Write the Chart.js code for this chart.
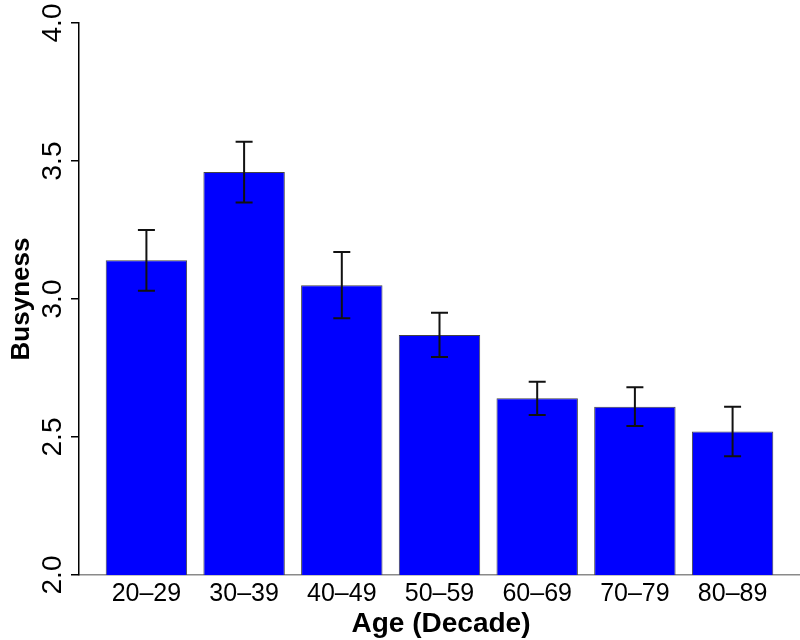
<!DOCTYPE html>
<html>
<head>
<meta charset="utf-8">
<script src="https://cdn.jsdelivr.net/npm/chart.js@4.4.1/dist/chart.umd.min.js"></script>
<style>
  body { margin: 0; background: #fff; }
  #wrap { width: 800px; height: 640px; }
</style>
</head>
<body>
<div id="wrap"><canvas id="busyChart"></canvas></div>
<script>
// Data
const ageGroups = ["20\u201329", "30\u201339", "40\u201349", "50\u201359", "60\u201369", "70\u201379", "80\u201389"];
const meanBusyness = [3.14, 3.46, 3.05, 2.87, 2.64, 2.61, 2.52];
const errUpper = [3.25, 3.57, 3.17, 2.95, 2.70, 2.68, 2.61];
const errLower = [3.03, 3.35, 2.93, 2.79, 2.58, 2.54, 2.43];
const yTicks = [2.0, 2.5, 3.0, 3.5, 4.0];

// R barplot positions: bar i spans 0.2 + 1.2*i .. +1
const barCenters = ageGroups.map((_, i) => 0.7 + 1.2 * i);

const FONT = "'Liberation Sans', Arial, Helvetica, sans-serif";

// Error bars, rotated y tick labels and axis titles
const extrasPlugin = {
    id: "extras",
    afterDatasetsDraw(chart) {
        const ctx = chart.ctx;
        const xs = chart.scales.x, ys = chart.scales.y;
        ctx.save();
        ctx.strokeStyle = "#111";
        ctx.lineWidth = 2;
        barCenters.forEach((c, i) => {
            const px = xs.getPixelForValue(c);
            const top = ys.getPixelForValue(errUpper[i]);
            const bot = ys.getPixelForValue(errLower[i]);
            ctx.beginPath();
            ctx.moveTo(px, top); ctx.lineTo(px, bot);
            ctx.moveTo(px - 8.5, top); ctx.lineTo(px + 8.5, top);
            ctx.moveTo(px - 8.5, bot); ctx.lineTo(px + 8.5, bot);
            ctx.stroke();
        });
        ctx.restore();
    },
    afterDraw(chart) {
        const ctx = chart.ctx;
        const ys = chart.scales.y;
        ctx.save();
        ctx.fillStyle = "#000";

        // y tick labels, reading upward
        ctx.font = "28px " + FONT;
        ctx.textAlign = "center";
        ctx.textBaseline = "alphabetic";
        yTicks.forEach(v => {
            const py = ys.getPixelForValue(v);
            ctx.save();
            ctx.translate(61, py);
            ctx.rotate(-Math.PI / 2);
            ctx.fillText(v.toFixed(1), 0, 0);
            ctx.restore();
        });

        // y title
        ctx.font = "bold 26px " + FONT;
        ctx.save();
        ctx.translate(29, (chart.chartArea.top + chart.chartArea.bottom) / 2);
        ctx.rotate(-Math.PI / 2);
        ctx.fillText("Busyness", 0, 0);
        ctx.restore();

        // x title
        ctx.font = "bold 28px " + FONT;
        ctx.fillText("Age (Decade)", 441, 632);
        ctx.restore();
    }
};

const ctx = document.getElementById("busyChart").getContext("2d");
const busyChart = new Chart(ctx, {
    type: "bar",
    data: {
        datasets: [{
            data: barCenters.map((c, i) => ({ x: c, y: meanBusyness[i] })),
            backgroundColor: "#0000FF",
            borderColor: "#444",
            borderWidth: 1,
            borderSkipped: false,
            categoryPercentage: 1,
            barPercentage: 1 / 1.2
        }]
    },
    options: {
        responsive: true,
        maintainAspectRatio: false,
        animation: false,
        layout: { padding: { top: 23, right: 0, left: 0, bottom: 0 } },
        plugins: {
            legend: { display: false },
            tooltip: { enabled: false }
        },
        scales: {
            x: {
                type: "linear",
                min: -0.128,
                max: 8.728,
                offset: false,
                grid: { display: false, drawTicks: false, offset: false },
                border: { display: true, color: "#8a8a8a", width: 1.5 },
                afterBuildTicks: scale => {
                    scale.ticks = barCenters.map(v => ({ value: v }));
                },
                afterFit: scale => { scale.height = 65; },
                ticks: {
                    autoSkip: false,
                    maxRotation: 0,
                    padding: 4,
                    color: "#000",
                    font: { family: FONT, size: 25 },
                    callback: (value, index) => ageGroups[index]
                }
            },
            y: {
                min: 2,
                max: 4,
                afterBuildTicks: scale => {
                    scale.ticks = yTicks.map(v => ({ value: v }));
                },
                afterFit: scale => { scale.width = 79; },
                grid: {
                    drawOnChartArea: false,
                    drawTicks: true,
                    tickLength: 8,
                    color: "#000",
                    lineWidth: 1.5
                },
                border: { display: true, color: "#000", width: 1.5 },
                ticks: { display: false }
            }
        }
    },
    plugins: [extrasPlugin]
});
</script>
</body>
</html>
